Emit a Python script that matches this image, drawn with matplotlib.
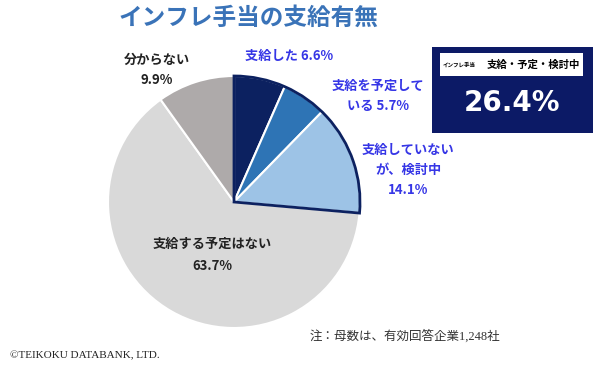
import matplotlib.pyplot as plt
from matplotlib.patches import Wedge, Rectangle

plt.rcParams['font.family'] = ['Noto Sans CJK JP', 'DejaVu Sans']

labels = ["支給した", "支給を予定して\nいる", "支給していない\nが、検討中", "支給する予定はない", "分からない"]
shares = [6.6, 5.7, 14.1, 63.7, 9.9]
colors = ["#0c2160", "#2e74b5", "#9dc3e6", "#d9d9d9", "#aeaaaa"]
headline = "26.4%"

W, H = 600, 368
fig = plt.figure(figsize=(W / 100, H / 100), dpi=100)
ax = fig.add_axes([0, 0, 1, 1])


def Y(y):
    # pixel row (from top) -> data y
    return H - y


cx, cy, r = 234, Y(202), 126
ax.pie(shares, colors=colors, startangle=90, counterclock=False,
       center=(cx, cy), radius=r, frame=True,
       wedgeprops=dict(edgecolor="white", linewidth=1.5))

# outline around the "paying / planning / considering" group
group = sum(shares[:3])
ax.add_patch(Wedge((cx, cy), r, 90 - 360 * group / 100, 90,
                   fill=False, edgecolor="#0c2160", linewidth=2, zorder=5))

ax.set_xlim(0, W)
ax.set_ylim(0, H)
ax.axis("off")

blue = "#3636e6"
ax.text(245, Y(56), f"{labels[0]} {shares[0]}%", color=blue, fontsize=9.5,
        fontweight="bold", ha="left", va="center")
ax.text(378, Y(96), f"{labels[1]} {shares[1]}%", color=blue, fontsize=9.5,
        fontweight="bold", ha="center", va="center", linespacing=1.6)
ax.text(408, Y(170), f"{labels[2]}\n{shares[2]}%", color=blue, fontsize=9.5,
        fontweight="bold", ha="center", va="center", linespacing=1.55)
ax.text(157, Y(70), f"{labels[4]}\n{shares[4]}%", color="#222222", fontsize=9.5,
        fontweight="bold", ha="center", va="center", linespacing=1.6)
ax.text(212, Y(255), f"{labels[3]}\n{shares[3]}%", color="#222222", fontsize=9.5,
        fontweight="bold", ha="center", va="center", linespacing=1.7)

# title
ax.text(248, Y(18), "インフレ手当の支給有無", color="#3a73b8", fontsize=17,
        fontweight="bold", ha="center", va="center")

# summary box
ax.add_patch(Rectangle((432, Y(133)), 161, 86, facecolor="#0c1a66",
                       edgecolor="none"))
ax.add_patch(Rectangle((440, Y(76)), 143, 23, facecolor="white",
                       edgecolor="none"))
ax.text(443, Y(65), "インフレ手当", fontsize=4, fontweight="bold",
        color="black", ha="left", va="center")
ax.text(580, Y(65), "支給・予定・検討中", fontsize=7.5, fontweight="bold",
        color="black", ha="right", va="center")
ax.text(512, Y(103), headline, fontsize=20, fontweight="bold",
        color="white", ha="center", va="center", family="DejaVu Sans")

serif = ['Liberation Serif', 'Noto Sans CJK JP']
ax.text(310, Y(336), "注：母数は、有効回答企業1,248社", fontsize=9,
        color="#333333", ha="left", va="center", family=serif)
ax.text(10, Y(356), "©TEIKOKU DATABANK, LTD.", fontsize=8,
        color="#222222", ha="left", va="center", family=serif)

fig.savefig("out.png", dpi=100)
